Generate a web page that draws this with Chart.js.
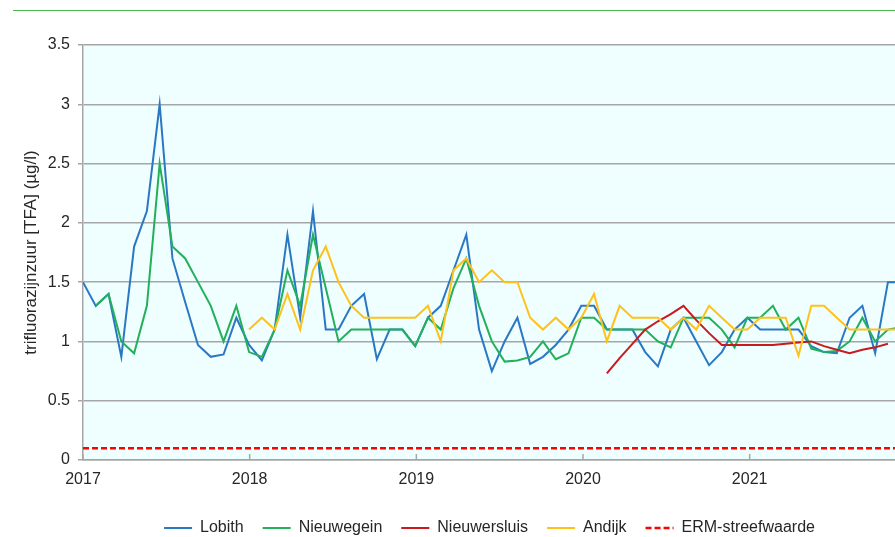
<!DOCTYPE html>
<html>
<head>
<meta charset="utf-8">
<script src="https://cdn.jsdelivr.net/npm/chart.js@4.4.1/dist/chart.umd.min.js"></script>
<style>
  html, body { margin: 0; padding: 0; background: #fff; overflow: hidden; }
  #wrap { position: relative; width: 895px; height: 537px; overflow: hidden; }
  #topline { position: absolute; left: 13px; right: 0; top: 10px; height: 1px; background: #4cbb4c; }
  canvas { position: absolute; left: 0; top: 0; }
</style>
</head>
<body>
<div id="wrap">
  <div id="topline"></div>
  <canvas id="chart" width="980" height="537"></canvas>
</div>
<script>
// vierwekelijkse metingen vanaf begin 2017
const startYear = 2017;
const sampleDays = 28;
const yearTicks = [2017, 2018, 2019, 2020, 2021];
const xMin = 2017;
const xMax = 2022.25;

const lobith = [1.5, 1.3, 1.4, 0.87, 1.8, 2.1, 3.0, 1.7, 1.33, 0.97, 0.87, 0.89, 1.2,
  0.97, 0.84, 1.1, 1.9, 1.2, 2.1, 1.1, 1.1, 1.3, 1.4, 0.85, 1.1, 1.1,
  0.96, 1.2, 1.3, 1.6, 1.9, 1.1, 0.75, 1.0, 1.2, 0.81, 0.87, 0.97, 1.1,
  1.3, 1.3, 1.1, 1.1, 1.1, 0.91, 0.79, 1.1, 1.2, 1.0, 0.8, 0.91, 1.1,
  1.2, 1.1, 1.1, 1.1, 1.1, 0.96, 0.91, 0.9, 1.2, 1.3, 0.9, 1.5, 1.5];
const nieuwegein = [null, 1.3, 1.4, 1.0, 0.9, 1.3, 2.5, 1.8, 1.7, 1.5, 1.3, 1.0, 1.3,
  0.91, 0.87, 1.1, 1.6, 1.3, 1.9, 1.45, 1.0, 1.1, 1.1, 1.1, 1.1, 1.1,
  0.96, 1.2, 1.1, 1.45, 1.7, 1.3, 1.0, 0.83, 0.84, 0.87, 1.0, 0.85, 0.9,
  1.2, 1.2, 1.1, 1.1, 1.1, 1.1, 1.0, 0.95, 1.2, 1.2, 1.2, 1.1, 0.95,
  1.2, 1.2, 1.3, 1.1, 1.2, 0.94, 0.91, 0.92, 1.0, 1.2, 1.0, 1.1, 1.12];
const nieuwersluis = [null, null, null, null, null, null, null, null, null, null, null, null, null,
  null, null, null, null, null, null, null, null, null, null, null, null, null,
  null, null, null, null, null, null, null, null, null, null, null, null, null,
  null, null, 0.73, 0.86, 0.98, 1.1, 1.17, 1.23, 1.3, 1.18, 1.07, 0.97, 0.97,
  0.97, 0.97, 0.97, 0.98, 0.99, 1.0, 0.96, 0.93, 0.9, 0.93, 0.95, 0.98, null];
const andijk = [null, null, null, null, null, null, null, null, null, null, null, null, null,
  1.1, 1.2, 1.1, 1.4, 1.1, 1.6, 1.8, 1.5, 1.3, 1.2, 1.2, 1.2, 1.2,
  1.2, 1.3, 1.0, 1.6, 1.7, 1.5, 1.6, 1.5, 1.5, 1.2, 1.1, 1.2, 1.1,
  1.2, 1.4, 1.0, 1.3, 1.2, 1.2, 1.2, 1.1, 1.2, 1.1, 1.3, 1.2, 1.1,
  1.1, 1.2, 1.2, 1.2, 0.88, 1.3, 1.3, 1.2, 1.1, 1.1, 1.1, 1.1, 1.1];
const ermStreefwaarde = 0.1;

const toPoints = arr => arr.map((v, i) => ({ x: startYear + i * sampleDays / 365.25, y: v }));

const gridGray = '#a6a6a6';
const textColor = '#262626';

Chart.defaults.font.family = "'Liberation Sans', Arial, sans-serif";

const plotBackground = {
  id: 'plotBackground',
  beforeDraw(chart) {
    const { ctx, chartArea: a } = chart;
    ctx.save();
    ctx.fillStyle = '#effefe';
    ctx.fillRect(a.left, a.top, a.right - a.left, a.bottom - a.top);
    ctx.restore();
  }
};

// kleine streepjes naar binnen op de x-as
const innerTicks = {
  id: 'innerTicks',
  beforeDatasetsDraw(chart) {
    const { ctx, chartArea: a, scales: { x } } = chart;
    ctx.save();
    ctx.strokeStyle = gridGray;
    ctx.lineWidth = 1.5;
    x.ticks.forEach(t => {
      const px = x.getPixelForValue(t.value);
      ctx.beginPath();
      ctx.moveTo(px, a.bottom);
      ctx.lineTo(px, a.bottom - 6);
      ctx.stroke();
    });
    ctx.restore();
  }
};

const lineSet = (label, data, color, order) => ({
  label,
  data: toPoints(data),
  borderColor: color,
  backgroundColor: color,
  borderWidth: 2,
  pointRadius: 0,
  tension: 0,
  spanGaps: false,
  order
});

const legendLabels = chart => {
  const items = Chart.defaults.plugins.legend.labels.generateLabels(chart);
  items.forEach(item => {
    const ds = chart.data.datasets[item.datasetIndex];
    item.strokeStyle = ds.borderColor;
    item.lineWidth = ds.borderWidth;
    item.lineDash = ds.borderDash || [];
  });
  return items;
};

new Chart(document.getElementById('chart'), {
  type: 'line',
  data: {
    datasets: [
      lineSet('Lobith', lobith, '#2a78c4', 4),
      lineSet('Nieuwegein', nieuwegein, '#22b05a', 3),
      lineSet('Nieuwersluis', nieuwersluis, '#c8191e', 2),
      lineSet('Andijk', andijk, '#ffc21a', 1),
      {
        label: 'ERM-streefwaarde',
        data: [{ x: xMin, y: ermStreefwaarde }, { x: xMax, y: ermStreefwaarde }],
        borderColor: '#ff0000',
        backgroundColor: '#ff0000',
        borderWidth: 2.5,
        borderDash: [6, 3],
        pointRadius: 0,
        order: 5
      }
    ]
  },
  options: {
    responsive: false,
    animation: false,
    layout: { padding: { left: 21, right: 22, top: 45, bottom: 2 } },
    plugins: {
      tooltip: { enabled: false },
      legend: {
        position: 'bottom',
        maxHeight: 34,
        labels: {
          usePointStyle: true,
          pointStyle: 'line',
          pointStyleWidth: 28,
          padding: 19,
          color: textColor,
          font: { size: 16 },
          generateLabels: legendLabels,
          sort: (a, b) => a.datasetIndex - b.datasetIndex
        }
      }
    },
    scales: {
      x: {
        type: 'linear',
        min: xMin,
        max: xMax,
        afterBuildTicks: s => { s.ticks = yearTicks.map(v => ({ value: v })); },
        afterFit: s => { s.height = 41; },
        ticks: { color: textColor, font: { size: 16 }, padding: 10, maxRotation: 0, autoSkip: false, callback: v => String(v) },
        grid: { display: false, drawTicks: false },
        border: { display: true, color: gridGray, width: 1.5 }
      },
      y: {
        min: 0,
        max: 3.5,
        afterFit: s => { s.width = 62; },
        ticks: { stepSize: 0.5, color: textColor, font: { size: 16 }, padding: 8, callback: v => String(v) },
        grid: { color: gridGray, lineWidth: 1.5, tickLength: 5 },
        border: { display: true, color: gridGray, width: 1.5 },
        title: { display: true, text: 'trifluorazijnzuur [TFA] (µg/l)', color: textColor, font: { size: 17 }, padding: 0 }
      }
    }
  },
  plugins: [plotBackground, innerTicks]
});
</script>
</body>
</html>
